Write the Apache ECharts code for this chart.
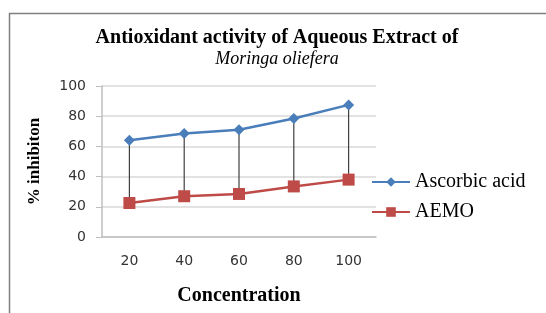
<!DOCTYPE html>
<html>
<head>
<meta charset="utf-8">
<script src="https://cdn.jsdelivr.net/npm/echarts@6/dist/echarts.min.js"></script>
<style>
  html, body { margin: 0; padding: 0; background: #fff; }
  #main { width: 546px; height: 313px; }
</style>
</head>
<body>
<div id="main"></div>
<script>
const concentrations = ['20', '40', '60', '80', '100'];
const ascorbicAcid = [64, 68.5, 71, 78.5, 87.5];
const aemo = [22.5, 27, 28.5, 33.5, 38];
const yTicks = [0, 20, 40, 60, 80, 100];

const chart = echarts.init(document.getElementById('main'));

// high-low lines between the two series
const dropData = concentrations.map((c, i) => [i, ascorbicAcid[i], aemo[i]]);

const option = {
  backgroundColor: '#fff',
  animation: false,
  title: {
    text: 'Antioxidant activity of Aqueous Extract of',
    subtext: 'Moringa oliefera',
    left: 272,
    top: 23,
    textAlign: 'center',
    itemGap: 2,
    textStyle: {
      fontFamily: 'Liberation Serif',
      fontWeight: 'bold',
      fontSize: 20,
      color: '#000'
    },
    subtextStyle: {
      fontFamily: 'Liberation Serif',
      fontStyle: 'italic',
      fontSize: 18,
      color: '#000'
    }
  },
  legend: {
    orient: 'vertical',
    left: 366,
    top: 167,
    itemGap: 10,
    itemWidth: 38,
    itemHeight: 12,
    data: ['Ascorbic acid', 'AEMO'],
    textStyle: {
      fontFamily: 'Liberation Serif',
      fontSize: 20,
      color: '#000'
    }
  },
  grid: {
    left: 102,
    right: 170,
    top: 86,
    bottom: 76
  },
  xAxis: {
    type: 'category',
    data: concentrations,
    boundaryGap: true,
    name: 'Concentration',
    nameLocation: 'middle',
    nameGap: 49,
    nameTextStyle: {
      fontFamily: 'Liberation Serif',
      fontWeight: 'bold',
      fontSize: 20,
      color: '#000'
    },
    axisLine: { lineStyle: { color: '#bfbfbf', width: 1.5 } },
    axisTick: { show: false },
    axisLabel: {
      margin: 17,
      fontFamily: 'DejaVu Sans',
      fontSize: 14,
      color: '#333'
    }
  },
  yAxis: {
    type: 'value',
    min: yTicks[0],
    max: yTicks[yTicks.length - 1],
    interval: 20,
    name: '% inhibiton',
    nameLocation: 'middle',
    nameGap: 59,
    nameTextStyle: {
      fontFamily: 'Liberation Serif',
      fontWeight: 'bold',
      fontSize: 17,
      color: '#000'
    },
    axisLine: { show: true, lineStyle: { color: '#bfbfbf', width: 1.5 } },
    axisTick: { show: true, length: 6, lineStyle: { color: '#bfbfbf' } },
    splitLine: { lineStyle: { color: '#d9d9d9', width: 1.5 } },
    axisLabel: {
      margin: 16,
      fontFamily: 'DejaVu Sans',
      fontSize: 14,
      color: '#333'
    }
  },
  series: [
    {
      name: 'drop',
      type: 'custom',
      data: dropData,
      z: 1,
      renderItem: (params, api) => {
        const top = api.coord([api.value(0), api.value(1)]);
        const bottom = api.coord([api.value(0), api.value(2)]);
        return {
          type: 'line',
          shape: { x1: top[0], y1: top[1], x2: bottom[0], y2: bottom[1] },
          style: { stroke: '#404040', lineWidth: 1.2 }
        };
      }
    },
    {
      name: 'Ascorbic acid',
      type: 'line',
      data: ascorbicAcid,
      z: 3,
      symbol: 'diamond',
      symbolSize: 11,
      lineStyle: { color: '#4a7ebb', width: 2.5 },
      itemStyle: { color: '#4a7ebb' }
    },
    {
      name: 'AEMO',
      type: 'line',
      data: aemo,
      z: 3,
      symbol: 'rect',
      symbolSize: 12,
      lineStyle: { color: '#be4b48', width: 2.5 },
      itemStyle: { color: '#be4b48' }
    }
  ],
  graphic: [
    {
      type: 'polyline',
      shape: { points: [[9.5, 313], [9.5, 13.5], [546, 13.5]] },
      style: { stroke: '#808080', lineWidth: 1.5, fill: null }
    }
  ]
};

chart.setOption(option);
</script>
</body>
</html>
